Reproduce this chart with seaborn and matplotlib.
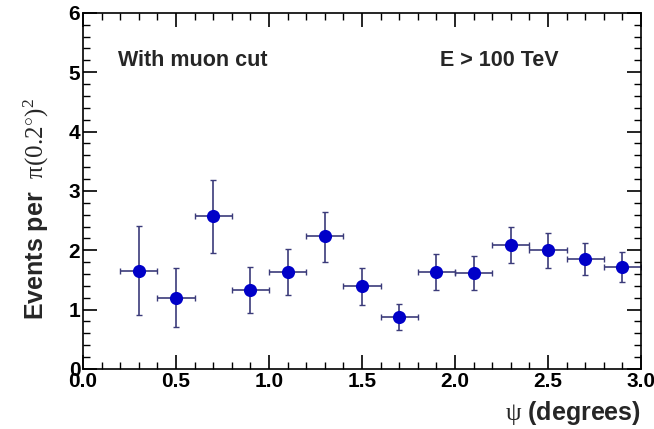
import numpy as np
import pandas as pd
import matplotlib
matplotlib.use("Agg")
import matplotlib.pyplot as plt
import seaborn as sns
from matplotlib.ticker import MultipleLocator, FormatStrFormatter

# Data
psi = [0.3, 0.5, 0.7, 0.9, 1.1, 1.3, 1.5, 1.7, 1.9, 2.1, 2.3, 2.5, 2.7, 2.9]
events = [1.65, 1.20, 2.58, 1.33, 1.64, 2.24, 1.40, 0.88, 1.64, 1.62, 2.09, 2.01, 1.85, 1.72]
err_up = [0.76, 0.50, 0.61, 0.39, 0.38, 0.41, 0.30, 0.22, 0.30, 0.28, 0.31, 0.28, 0.27, 0.25]
err_dn = [0.74, 0.49, 0.62, 0.39, 0.39, 0.44, 0.32, 0.22, 0.31, 0.29, 0.30, 0.31, 0.26, 0.25]
bin_half = [0.1] * len(psi)

df = pd.DataFrame({"psi": psi, "events": events})

sns.set_style("ticks")
plt.rcParams["font.family"] = ["Liberation Sans", "DejaVu Sans"]
plt.rcParams["mathtext.fontset"] = "custom"
plt.rcParams["mathtext.rm"] = "Liberation Serif"
plt.rcParams["mathtext.it"] = "Liberation Serif"

fig = plt.figure(figsize=(6.54, 4.29), dpi=100)
ax = fig.add_axes([0.127, 0.140, 0.853, 0.830])

ax.errorbar(df["psi"], df["events"], xerr=bin_half, yerr=[err_dn, err_up],
            fmt="none", ecolor="#3b3b7a", elinewidth=1.2, capsize=2, capthick=1.0, zorder=2)
sns.scatterplot(data=df, x="psi", y="events", ax=ax, color="#0000c8", s=90,
                edgecolor="#0000c8", linewidth=0, zorder=3)

ax.set_xlim(0, 3.0)
ax.set_ylim(0, 6)
ax.xaxis.set_major_locator(MultipleLocator(0.5))
ax.xaxis.set_minor_locator(MultipleLocator(0.1))
ax.yaxis.set_major_locator(MultipleLocator(1))
ax.yaxis.set_minor_locator(MultipleLocator(0.2))
ax.xaxis.set_major_formatter(FormatStrFormatter("%.1f"))
ax.yaxis.set_major_formatter(FormatStrFormatter("%d"))

ax.tick_params(which="both", direction="in", top=True, right=True, colors="black")
ax.tick_params(which="major", length=10, width=1.2, labelsize=15, pad=2)
ax.tick_params(which="minor", length=5, width=1.0)
for lab in ax.get_xticklabels() + ax.get_yticklabels():
    lab.set_fontweight("bold")
for sp in ax.spines.values():
    sp.set_linewidth(1.2)
    sp.set_color("black")

ax.set_xlabel(r"$\psi$ (degrees)", fontsize=18, fontweight="bold", loc="right", labelpad=6)
ax.set_ylabel(r"Events per  $\pi(0.2^{\circ})^{2}$", fontsize=18, fontweight="bold")
ax.yaxis.set_label_coords(-0.058, 0.45)

ax.text(0.063, 0.852, "With muon cut", transform=ax.transAxes, fontsize=15.5, fontweight="bold")
ax.text(0.640, 0.852, "E > 100 TeV", transform=ax.transAxes, fontsize=15.5, fontweight="bold")

fig.savefig("out.png", dpi=100, facecolor="white")
